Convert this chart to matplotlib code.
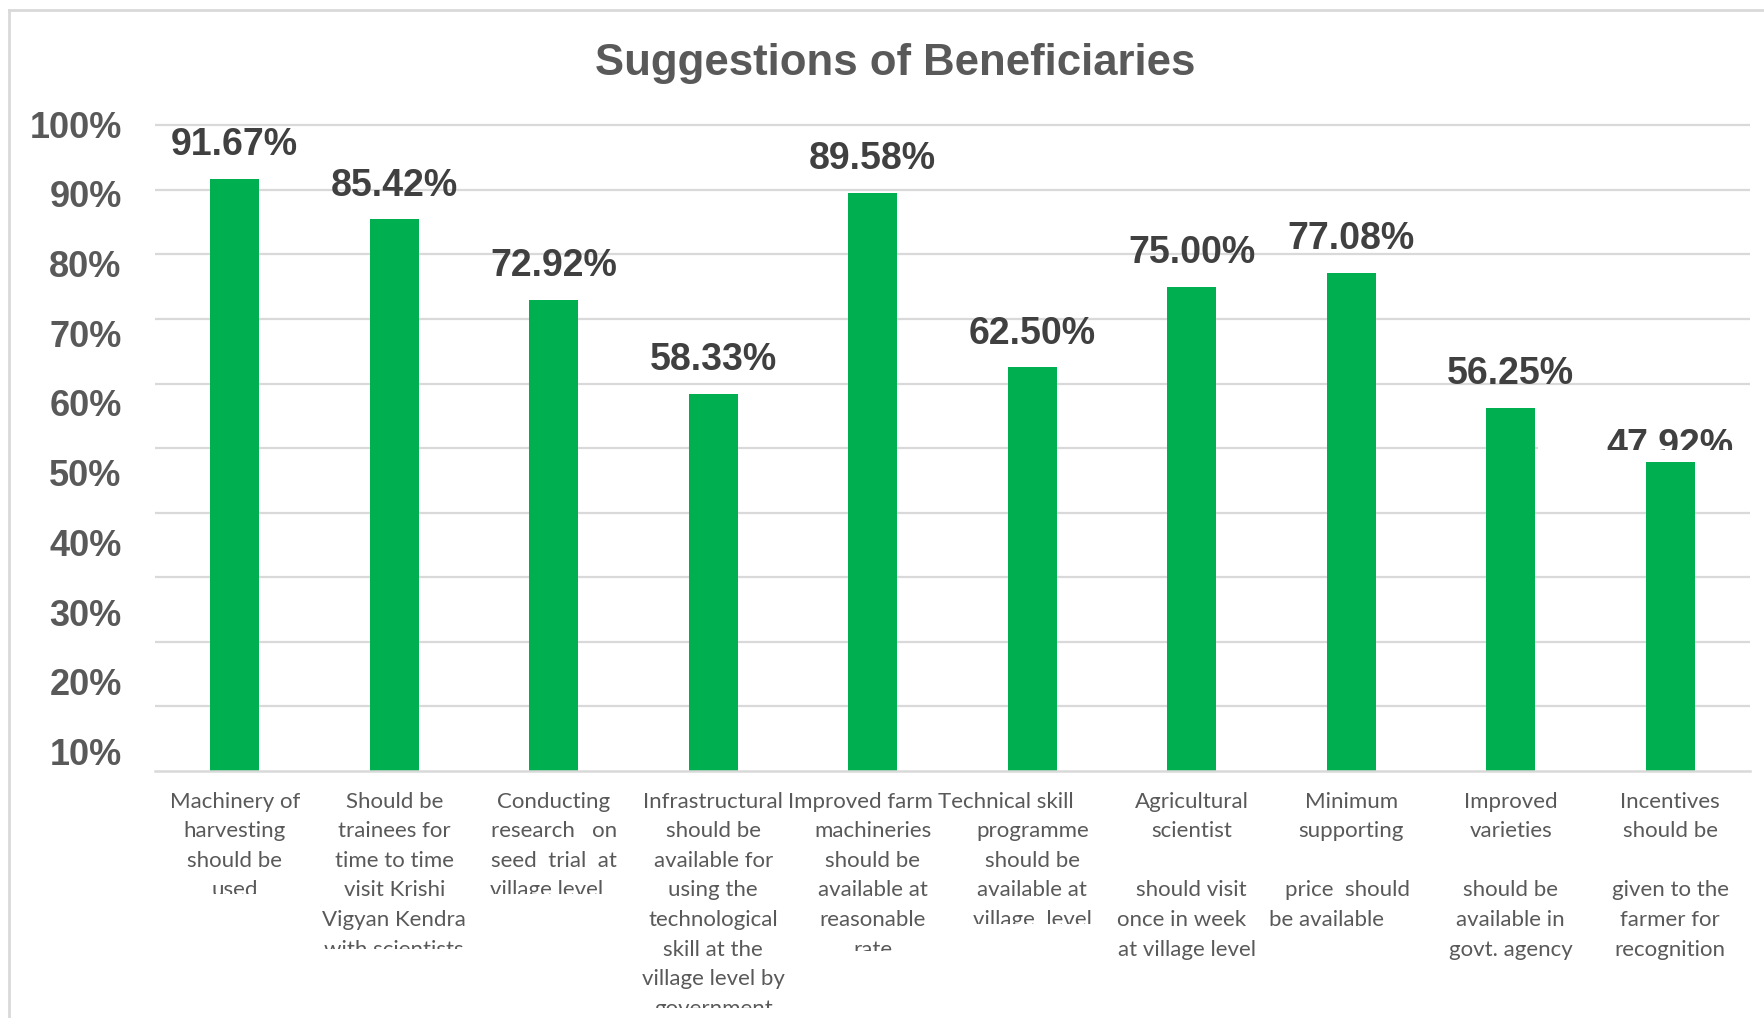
import matplotlib
matplotlib.use("Agg")
import matplotlib.pyplot as plt
from matplotlib.transforms import Bbox, TransformedBbox, blended_transform_factory
from matplotlib.patches import Rectangle
import numpy as np

# ---- data -------------------------------------------------------------
title = "Suggestions of Beneficiaries"

categories = [
    ["Machinery of", "harvesting", "should be", "used"],
    ["Should be", "trainees for", "time to time", "visit Krishi", "Vigyan Kendra", "with scientists"],
    ["Conducting", "research   on", "seed  trial  at", "village level"],
    ["Infrastructural", "should be", "available for", "using the", "technological",
     "skill at the", "village level by", "government"],
    ["Improved farm", "machineries", "should be", "available at", "reasonable", "rate"],
    ["Technical skill", "programme", "should be", "available at", "village  level"],
    ["Agricultural", "scientist", "", "should visit", "once in week", "at village level"],
    ["Minimum", "supporting", "", "price  should", "be available"],
    ["Improved", "varieties", "", "should be", "available in", "govt. agency"],
    ["Incentives", "should be", "", "given to the", "farmer for", "recognition"],
]

values = [91.67, 85.42, 72.92, 58.33, 89.58, 62.50, 75.00, 77.08, 56.25, 47.92]

tick_labels = ["10%", "20%", "30%", "40%", "50%", "60%", "70%", "80%", "90%", "100%"]

# ---- layout -----------------------------------------------------------
W, H, DPI = 1765, 1018, 100
AX_L, AX_R, AX_T, AX_B = 155, 1750, 124, 771          # axes box in pixels
tick_pos = [3.0, 13.8, 24.6, 35.4, 46.2, 57.0, 67.8, 78.6, 89.4, 100.2]
grid_levels = np.arange(0, 101, 10)

label_top = 801.5      # centre of first category line (px from top)
line_step = 29.6       # category line spacing (px)
clip_bottom = {0: 894, 1: 949, 2: 894, 3: 1008, 4: 951, 5: 923.5}  # px from top
line_shift = {(2, 3): -7, (4, 0): -12, (5, 0): -26, (6, 4): -10, (6, 5): -5,
              (7, 3): -4, (7, 4): -25}                            # px
value_gap = [34] * 9 + [16]                                       # px above bar

GREEN = "#00b050"
GRID = "#d9d9d9"
TXT = "#595959"
VAL = "#404040"

fig = plt.figure(figsize=(W / DPI, H / DPI), dpi=DPI)
fig.patch.set_facecolor("white")

ax = fig.add_axes([AX_L / W, 1 - AX_B / H, (AX_R - AX_L) / W, (AX_B - AX_T) / H])
ax.set_xlim(-0.5, 9.5)
ax.set_ylim(0, 100)
px_per_unit = (AX_B - AX_T) / 100.0

x = np.arange(len(values))

# gridlines
ax.hlines(grid_levels[1:], -0.5, 9.5, colors=GRID, lw=1.6, zorder=1, clip_on=False)

# bars
ax.bar(x, values, width=0.31, color=GREEN, zorder=3)

for s in ["top", "right", "left"]:
    ax.spines[s].set_visible(False)
ax.spines["bottom"].set_color(GRID)
ax.spines["bottom"].set_linewidth(1.8)
ax.spines["bottom"].set_zorder(4)

# y tick labels
ax.set_yticks(tick_pos)
ax.set_yticklabels(tick_labels, fontfamily="Liberation Sans", fontweight="bold",
                   fontsize=26, color=TXT)
ax.tick_params(axis="y", length=0, pad=24)
ax.set_xticks([])

# white patch behind the last value label
ax.add_patch(Rectangle((8.17, 48.2), 1.5, 2.6, facecolor="white", edgecolor="none",
                       zorder=2, clip_on=False))

# value labels
for i, v in enumerate(values):
    yv = v + value_gap[i] / px_per_unit
    t = ax.text(i, yv, f"{v:.2f}%", ha="center", va="center",
                fontfamily="Liberation Sans", fontweight="bold", fontsize=27,
                color=VAL, zorder=5, clip_on=False)
    if i == len(values) - 1:
        cut = (AX_B - 449) / px_per_unit
        t.set_clip_on(True)
        t.set_clip_path(None)
        t.set_clip_box(TransformedBbox(Bbox.from_extents(i - 0.6, cut, i + 0.6, 200),
                                       ax.transData))

# title
fig.text(895 / W, 1 - 64 / H, title, ha="center", va="center",
         fontfamily="Liberation Sans", fontweight="bold", fontsize=31.5, color=TXT)

# category labels, one line at a time
blend = blended_transform_factory(ax.transData, fig.transFigure)
px_x = (AX_R - AX_L) / 10.0
for i, lines in enumerate(categories):
    clip = None
    if i in clip_bottom:
        clip = TransformedBbox(
            Bbox.from_extents(i - 0.7, 1 - clip_bottom[i] / H, i + 0.7, 1.0), blend)
    for k, line in enumerate(lines):
        if not line:
            continue
        xi = i + line_shift.get((i, k), 0) / px_x
        yi = 1 - (label_top + k * line_step) / H
        t = fig.text(xi, yi, line, transform=blend, ha="center", va="center",
                     fontfamily="Lato", fontsize=16, color=TXT)
        if clip is not None:
            t.set_clip_on(True)
            t.set_clip_box(clip)

# outer frame (left and top edges)
fig.add_artist(plt.Line2D([9 / W, 9 / W], [0, 1 - 10 / H], transform=fig.transFigure,
                          color=GRID, lw=2))
fig.add_artist(plt.Line2D([9 / W, 1], [1 - 10 / H, 1 - 10 / H], transform=fig.transFigure,
                          color=GRID, lw=2))

fig.savefig("out.png", dpi=DPI, facecolor="white")
